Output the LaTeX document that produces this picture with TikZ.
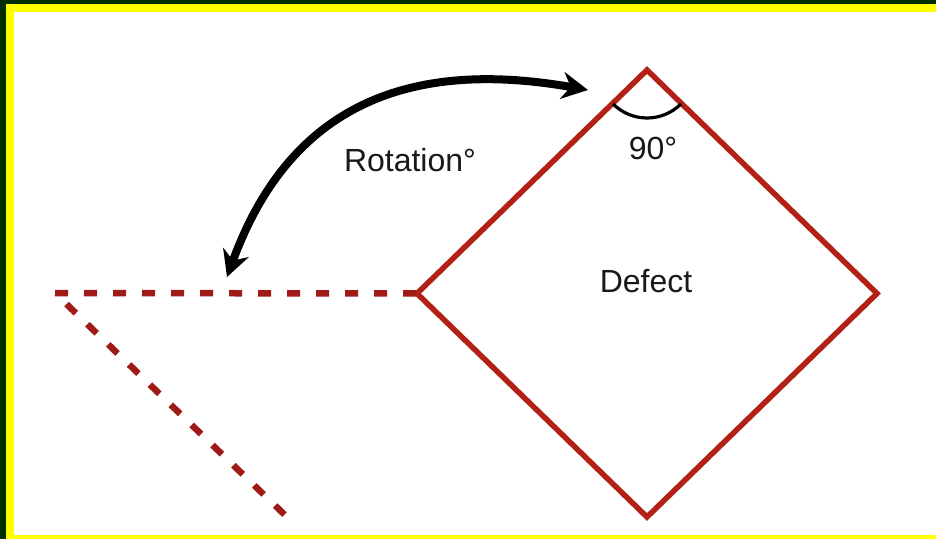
\documentclass[tikz,border=0pt]{standalone}
\usepackage{fontspec}
\setmainfont{Liberation Sans}
\usetikzlibrary{arrows.meta, shapes.geometric}
\definecolor{frame-green}{RGB}{0,45,0}
\definecolor{frame-yellow}{RGB}{255,255,0}
\definecolor{defect-red}{RGB}{178,32,22}
\definecolor{trace-red}{RGB}{160,26,24}
\definecolor{label-gray}{RGB}{25,25,25}

\begin{document}
\begin{tikzpicture}[
  x=1pt, y=1pt,
  >=Stealth,
  every node/.style = {font=\fontsize{32}{38}\selectfont, text=label-gray},
  % Shape styles
  defectbox/.style = {diamond, draw=defect-red, line width=5.5pt,
                      minimum width=460pt, minimum height=447pt,
                      inner sep=0pt, outer sep=0pt},
  % Line styles
  tracedash/.style = {draw=trace-red, line width=6.5pt,
                      dash pattern=on 13pt off 16pt},
  rotarrow/.style  = {{Stealth[length=26pt, width=27pt]}-{Stealth[length=26pt, width=27pt]},
                      line width=8pt, black},
  anglearc/.style  = {line width=3.2pt, black},
]

\useasboundingbox (0,0) rectangle (936,539);

% ── Frame ──────────────────────────────────────────────────────────────────────
\fill[white] (0,0) rectangle (936,539);
\fill[frame-green]  (0,0)   rectangle (6,539);
\fill[frame-green]  (0,535) rectangle (936,539);
\fill[frame-yellow] (6,0)   rectangle (14,535);
\fill[frame-yellow] (6,527) rectangle (936,535);
\fill[frame-yellow] (6,0)   rectangle (936,4);

% ── Nodes ──────────────────────────────────────────────────────────────────────

% Defect (rotated square)
\node[defectbox] (defect) at (647, 245.5) {};
\node (defectlabel) at (646, 258) {Defect};

% Angle at the top corner
\node (anglelabel) at (653, 391) {90°};

% Rotation label
\node (rotlabel) at (410, 379) {Rotation°};

% Free ends
\coordinate (pivot)     at (55, 246);
\coordinate (tracetail) at (287, 22);
\coordinate (rotstart)  at (227, 262);
\coordinate (rotend)    at (588, 449);

% ── Lines ──────────────────────────────────────────────────────────────────────

% Original position (dashed)
\draw[tracedash] (pivot) -- (defect.west);
\draw[tracedash, dash phase=13pt] (pivot) -- (tracetail);

% 90 degree corner
\draw[anglearc] ([shift={(225:48)}]defect.north)
  arc[start angle=225, end angle=315, radius=48];

% Rotation arrow
\draw[rotarrow] (rotstart) to[out=70, in=170, looseness=1.15] (rotend);

\end{tikzpicture}
\end{document}
